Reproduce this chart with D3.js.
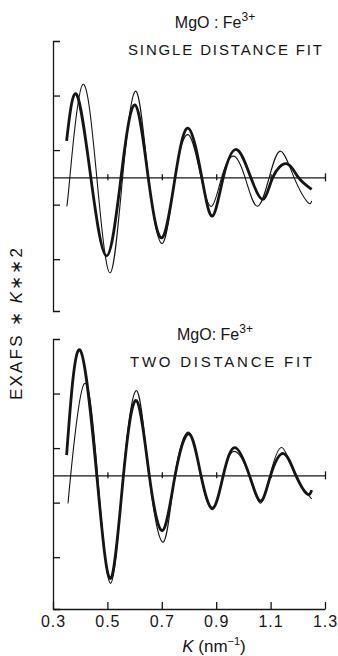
<!DOCTYPE html>
<html>
<head>
<meta charset="utf-8">
<script src="https://cdn.jsdelivr.net/npm/d3@7"></script>
<style>
  html, body { margin: 0; padding: 0; background: #fff; }
  svg { display: block; font-family: "Liberation Sans", Arial, sans-serif; }
</style>
</head>
<body>
<svg id="chart" width="338" height="656"></svg>
<script>
// K (nm^-1) and EXAFS*K**2 values
const topThickK = [0.350, 0.387, 0.439, 0.497, 0.550, 0.601, 0.650, 0.700, 0.749, 0.797, 0.847, 0.886, 0.926, 0.975, 1.027, 1.073, 1.108, 1.159, 1.202, 1.251]
const topThickV = [0.67, 1.52, 0, -1.44, 0, 1.33, 0, -1.11, 0, 0.90, 0, -0.71, 0, 0.51, 0, -0.40, 0, 0.25, 0, -0.22]

const topThinK = [0.350, 0.362, 0.409, 0.461, 0.510, 0.556, 0.605, 0.651, 0.703, 0.748, 0.798, 0.844, 0.883, 0.920, 0.963, 1.006, 1.051, 1.095, 1.137, 1.186, 1.235, 1.251]
const topThinV = [-0.53, 0, 1.70, 0, -1.75, 0, 1.58, 0, -1.21, 0, 0.78, 0, -0.53, 0, 0.39, 0, -0.53, 0, 0.48, 0, -0.45, -0.43]

const botThickK = [0.350, 0.399, 0.461, 0.512, 0.559, 0.607, 0.654, 0.703, 0.749, 0.800, 0.844, 0.887, 0.926, 0.969, 1.022, 1.064, 1.100, 1.147, 1.193, 1.234, 1.251]
const botThickV = [0.37, 2.30, 0, -1.89, 0, 1.37, 0, -1.01, 0, 0.76, 0, -0.60, 0, 0.51, 0, -0.47, 0, 0.40, 0, -0.34, -0.27]

const botThinK = [0.356, 0.365, 0.415, 0.464, 0.512, 0.558, 0.608, 0.653, 0.706, 0.748, 0.800, 0.843, 0.887, 0.925, 0.967, 1.021, 1.062, 1.098, 1.141, 1.190, 1.251]
const botThinV = [-0.51, 0, 1.68, 0, -1.98, 0, 1.55, 0, -1.22, 0, 0.79, 0, -0.63, 0, 0.44, 0, -0.51, 0, 0.51, 0, -0.43]

const xTicks = [0.3, 0.5, 0.7, 0.9, 1.1, 1.3]
const yTicks = [-1.5, -0.5, 0.5, 1.5]
const yDomain = [-2.45, 2.5]

const panels = [
  { title: 'SINGLE DISTANCE FIT', titleLen: 194, thick: [topThickK, topThickV], thin: [topThinK, topThinV], top: 41, bottom: 311, mgoY: 28, mgoColon: ' : ', fitY: 55, fitX: 128, xAxis: false },
  { title: 'TWO DISTANCE FIT', titleLen: 182, thick: [botThickK, botThickV], thin: [botThinK, botThinV], top: 339, bottom: 609, mgoY: 340, mgoColon: ': ', fitY: 367, fitX: 130, xAxis: true }
]

const ink = '#151515'
const svg = d3.select('#chart')

const x = d3.scaleLinear().domain([0.3, 1.3]).range([53, 325])

panels.forEach(p => {
  const y = d3.scaleLinear().domain(yDomain).range([p.bottom, p.top])
  const g = svg.append('g')

  // left axis: bracket with inward ticks
  g.append('g')
    .attr('transform', 'translate(53,0)')
    .call(d3.axisLeft(y).tickValues(yTicks).tickSize(-7).tickSizeOuter(-7).tickFormat(''))
    .call(a => a.selectAll('path, line').attr('stroke', ink).attr('stroke-width', 1.3))

  // zero line with small crossing ticks
  g.append('g')
    .attr('transform', `translate(0,${y(0)})`)
    .call(d3.axisBottom(x).tickValues(xTicks.slice(1)).tickSize(0).tickSizeOuter(0).tickFormat(''))
    .call(a => a.selectAll('path').attr('stroke', ink).attr('stroke-width', 1.3))
    .call(a => a.selectAll('.tick line').attr('stroke', ink).attr('stroke-width', 1.3)
      .attr('y1', d => d === 1.3 ? -4 : -3).attr('y2', d => d === 1.3 ? 4 : 3))

  if (p.xAxis) {
    g.append('g')
      .attr('transform', `translate(0,${p.bottom})`)
      .call(d3.axisBottom(x).tickValues(xTicks).tickSize(-7).tickSizeOuter(0).tickPadding(7).tickFormat(d3.format('.1f')))
      .call(a => a.selectAll('path, line').attr('stroke', ink).attr('stroke-width', 1.3))
      .call(a => a.selectAll('text').attr('fill', ink).attr('font-size', 16)
        .attr('font-family', '"Liberation Sans", Arial, sans-serif').attr('letter-spacing', 1))
  }

  const line = d3.line()
    .x(d => x(d[0]))
    .y(d => y(d[1]))
    .curve(d3.curveNatural)

  g.append('path')
    .datum(d3.zip(p.thin[0], p.thin[1]))
    .attr('d', line)
    .attr('fill', 'none')
    .attr('stroke', ink)
    .attr('stroke-width', 1.1)

  g.append('path')
    .datum(d3.zip(p.thick[0], p.thick[1]))
    .attr('d', line)
    .attr('fill', 'none')
    .attr('stroke', ink)
    .attr('stroke-width', 2.8)
    .attr('stroke-linejoin', 'round')

  // titles
  const mgo = g.append('text')
    .attr('x', 215).attr('y', p.mgoY)
    .attr('text-anchor', 'middle')
    .attr('font-size', 16).attr('fill', ink)
  mgo.append('tspan').text('MgO' + p.mgoColon + 'Fe')
  mgo.append('tspan').attr('dy', -7).attr('font-size', 12).text('3+')

  g.append('text')
    .attr('x', p.fitX).attr('y', p.fitY)
    .attr('font-size', 15).attr('fill', ink)
    .attr('textLength', p.titleLen).attr('lengthAdjust', 'spacing')
    .text(p.title)
})

// y axis label
const yl = svg.append('text')
  .attr('transform', 'translate(22,324) rotate(-90)')
  .attr('text-anchor', 'middle')
  .attr('font-size', 17).attr('fill', ink)
  .attr('textLength', 152).attr('lengthAdjust', 'spacing')
yl.append('tspan').text('EXAFS ∗ ')
yl.append('tspan').attr('font-style', 'italic').text('K')
yl.append('tspan').text('∗∗2')

// x axis label
const xl = svg.append('text')
  .attr('x', 214).attr('y', 652)
  .attr('text-anchor', 'middle')
  .attr('font-size', 17).attr('fill', ink)
xl.append('tspan').attr('font-style', 'italic').text('K')
xl.append('tspan').text(' (nm')
xl.append('tspan').attr('dy', -7).attr('font-size', 11).text('−1')
xl.append('tspan').attr('dy', 7).text(')')
</script>
</body>
</html>
